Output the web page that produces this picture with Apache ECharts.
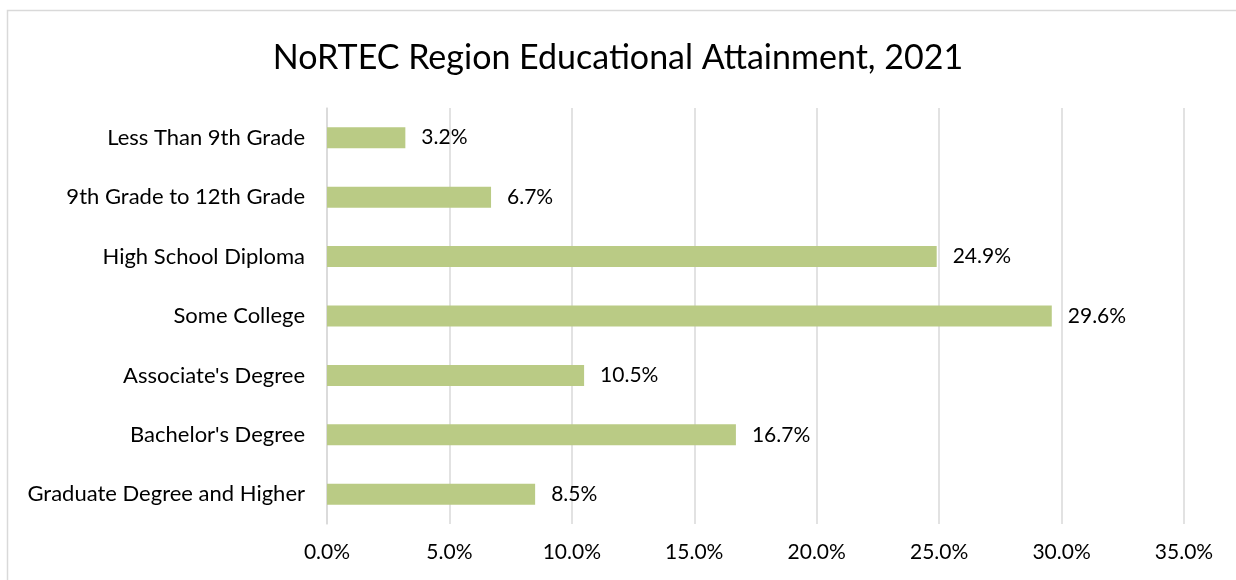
<!DOCTYPE html>
<html><head><meta charset="utf-8">
<script src="https://cdn.jsdelivr.net/npm/echarts@6/dist/echarts.min.js"></script>
<style>html,body{margin:0;padding:0;background:#fff}#c{width:1236px;height:580px}</style>
</head><body><div id="c"></div>
<script>
const categories = ["Less Than 9th Grade","9th Grade to 12th Grade","High School Diploma","Some College","Associate's Degree","Bachelor's Degree","Graduate Degree and Higher"];
const values = [3.2, 6.7, 24.9, 29.6, 10.5, 16.7, 8.5];
const titleText = "NoRTEC Region Educational Attainment, 2021";
const FONT = "Lato";
const chart = echarts.init(document.getElementById('c'));
chart.setOption({
  animation: false,
  backgroundColor: '#fff',
  title: {text: titleText, left: 'center', top: 36, textStyle: {fontFamily: FONT, fontSize: 34, fontWeight: 'normal', color: '#000'}},
  graphic: [{type: 'rect', shape: {x: 7.5, y: 10.5, width: 1240, height: 590}, style: {fill: 'none', stroke: '#d9d9d9', lineWidth: 1.5}, silent: true}],
  grid: {left: 327, right: 52, top: 108, bottom: 56},
  xAxis: {type: 'value', min: 0, max: 35, interval: 5,
    axisLine: {show: false}, axisTick: {show: false},
    splitLine: {lineStyle: {color: '#d9d9d9', width: 1.5}},
    axisLabel: {formatter: v => v.toFixed(1) + '%', fontFamily: FONT, fontSize: 21, color: '#000', margin: 18}},
  yAxis: {type: 'category', data: categories, inverse: true,
    axisLine: {show: true, lineStyle: {color: '#d9d9d9', width: 1.5}}, axisTick: {show: false},
    axisLabel: {fontFamily: FONT, fontSize: 22, color: '#000', margin: 22}},
  series: [{type: 'bar', data: values, barWidth: 21, itemStyle: {color: '#bacb85'},
    label: {show: true, position: 'right', distance: 16, formatter: p => p.value.toFixed(1) + '%', fontFamily: FONT, fontSize: 21, color: '#000'}}]
});
</script></body></html>
